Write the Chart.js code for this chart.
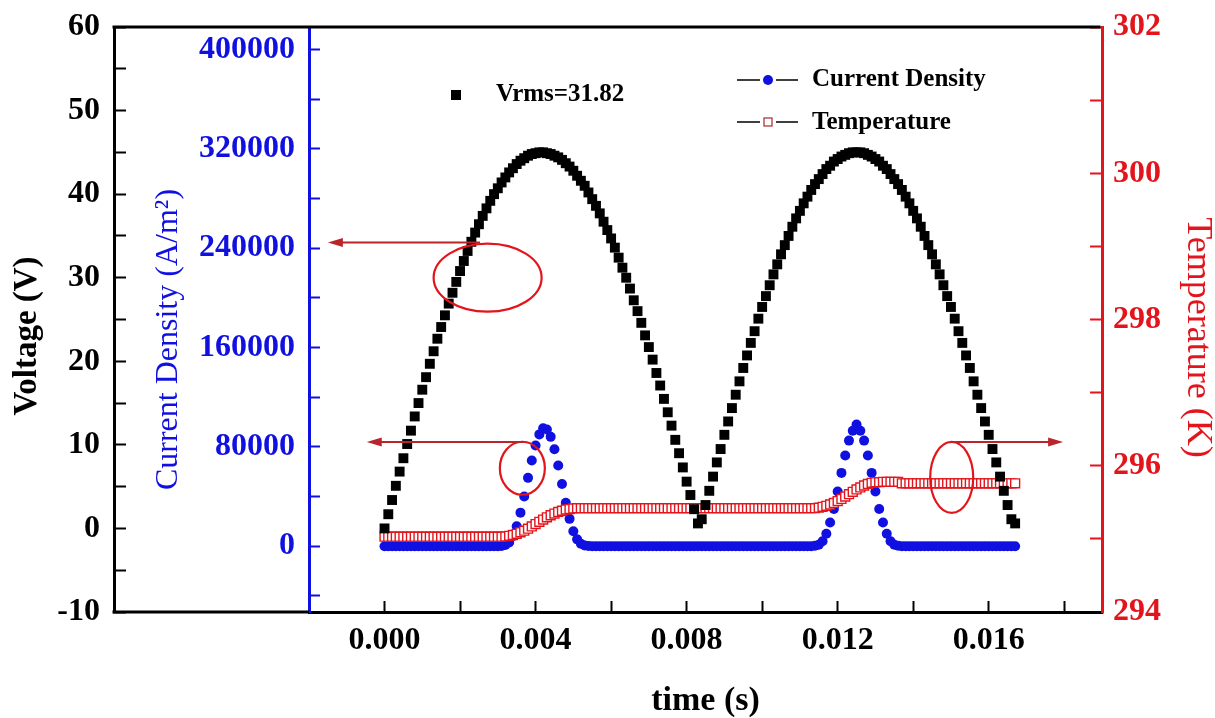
<!DOCTYPE html>
<html>
<head>
<meta charset="utf-8">
<title>Voltage, current density and temperature vs time</title>
<script src="https://cdn.jsdelivr.net/npm/chart.js@4.4.0/dist/chart.umd.min.js"></script>
<style>
  html, body { margin: 0; padding: 0; background: #fff; }
  #wrap { width: 1215px; height: 718px; }
</style>
</head>
<body>
<div id="wrap"><canvas id="chart" width="1215" height="718"></canvas></div>
<script>
// time (s), one sample every 0.1 ms
var time = [
  0.0000,0.0001,0.0002,0.0003,0.0004,0.0005,0.0006,0.0007,0.0008,0.0009,
  0.0010,0.0011,0.0012,0.0013,0.0014,0.0015,0.0016,0.0017,0.0018,0.0019,
  0.0020,0.0021,0.0022,0.0023,0.0024,0.0025,0.0026,0.0027,0.0028,0.0029,
  0.0030,0.0031,0.0032,0.0033,0.0034,0.0035,0.0036,0.0037,0.0038,0.0039,
  0.0040,0.0041,0.0042,0.0043,0.0044,0.0045,0.0046,0.0047,0.0048,0.0049,
  0.0050,0.0051,0.0052,0.0053,0.0054,0.0055,0.0056,0.0057,0.0058,0.0059,
  0.0060,0.0061,0.0062,0.0063,0.0064,0.0065,0.0066,0.0067,0.0068,0.0069,
  0.0070,0.0071,0.0072,0.0073,0.0074,0.0075,0.0076,0.0077,0.0078,0.0079,
  0.0080,0.0081,0.0082,0.0083,0.0084,0.0085,0.0086,0.0087,0.0088,0.0089,
  0.0090,0.0091,0.0092,0.0093,0.0094,0.0095,0.0096,0.0097,0.0098,0.0099,
  0.0100,0.0101,0.0102,0.0103,0.0104,0.0105,0.0106,0.0107,0.0108,0.0109,
  0.0110,0.0111,0.0112,0.0113,0.0114,0.0115,0.0116,0.0117,0.0118,0.0119,
  0.0120,0.0121,0.0122,0.0123,0.0124,0.0125,0.0126,0.0127,0.0128,0.0129,
  0.0130,0.0131,0.0132,0.0133,0.0134,0.0135,0.0136,0.0137,0.0138,0.0139,
  0.0140,0.0141,0.0142,0.0143,0.0144,0.0145,0.0146,0.0147,0.0148,0.0149,
  0.0150,0.0151,0.0152,0.0153,0.0154,0.0155,0.0156,0.0157,0.0158,0.0159,
  0.0160,0.0161,0.0162,0.0163,0.0164,0.0165,0.0166,0.0167
];

// voltage (V)
var voltage = [
  0.0,1.7,3.4,5.1,6.8,8.4,10.1,11.7,13.4,15.0,
  16.6,18.1,19.7,21.2,22.7,24.1,25.5,26.9,28.2,29.5,
  30.8,32.0,33.2,34.3,35.4,36.4,37.4,38.3,39.2,40.0,
  40.7,41.4,42.0,42.6,43.1,43.6,44.0,44.3,44.6,44.8,
  44.9,45.0,45.0,44.9,44.8,44.6,44.4,44.1,43.7,43.3,
  42.8,42.2,41.6,41.0,40.2,39.4,38.6,37.7,36.7,35.7,
  34.7,33.6,32.4,31.2,30.0,28.7,27.3,26.0,24.6,23.1,
  21.7,20.2,18.6,17.1,15.5,13.9,12.3,10.6,9.0,7.3,
  5.6,4.0,2.3,0.6,1.1,2.8,4.5,6.2,7.9,9.5,
  11.2,12.8,14.4,16.0,17.6,19.2,20.7,22.2,23.6,25.1,
  26.5,27.8,29.1,30.4,31.6,32.8,33.9,35.0,36.1,37.1,
  38.0,38.9,39.7,40.5,41.2,41.8,42.4,43.0,43.4,43.9,
  44.2,44.5,44.7,44.9,45.0,45.0,45.0,44.9,44.7,44.5,
  44.2,43.9,43.4,43.0,42.4,41.8,41.2,40.5,39.7,38.9,
  38.0,37.1,36.1,35.0,33.9,32.8,31.6,30.4,29.1,27.8,
  26.5,25.1,23.6,22.2,20.7,19.2,17.6,16.0,14.4,12.8,
  11.2,9.5,7.9,6.2,4.5,2.8,1.1,0.6
];

// current density (A/m2)
var currentDensity = [
  0,0,0,0,0,0,0,0,0,0,
  0,0,0,0,0,0,0,0,0,0,
  0,0,0,0,0,0,0,0,0,0,
  0,200,900,3000,8000,16000,27000,40000,55000,69000,
  81000,90000,95000,94000,88000,78000,65000,50000,35000,22000,
  12000,5500,2000,600,100,0,0,0,0,0,
  0,0,0,0,0,0,0,0,0,0,
  0,0,0,0,0,0,0,0,0,0,
  0,0,0,0,0,0,0,0,0,0,
  0,0,0,0,0,0,0,0,0,0,
  0,0,0,0,0,0,0,0,0,0,
  0,0,0,0,300,1200,4000,10000,19000,30000,
  44000,59000,73000,85000,93000,98000,93000,85000,73000,59000,
  44000,30000,19000,10000,4000,1200,300,0,0,0,
  0,0,0,0,0,0,0,0,0,0,
  0,0,0,0,0,0,0,0,0,0,
  0,0,0,0,0,0,0,0
];

// temperature (K)
var temperature = [
  295.03,295.03,295.03,295.03,295.03,295.03,295.03,295.03,295.03,295.03,
  295.03,295.03,295.03,295.03,295.03,295.03,295.03,295.03,295.03,295.03,
  295.03,295.03,295.03,295.03,295.03,295.03,295.03,295.03,295.03,295.03,
  295.03,295.03,295.034,295.042,295.053,295.069,295.089,295.112,295.139,295.170,
  295.202,295.233,295.264,295.295,295.323,295.346,295.369,295.385,295.401,295.408,
  295.416,295.42,295.42,295.42,295.42,295.42,295.42,295.42,295.42,295.42,
  295.42,295.42,295.42,295.42,295.42,295.42,295.42,295.42,295.42,295.42,
  295.42,295.42,295.42,295.42,295.42,295.42,295.42,295.42,295.42,295.42,
  295.42,295.42,295.42,295.42,295.42,295.42,295.42,295.42,295.42,295.42,
  295.42,295.42,295.42,295.42,295.42,295.42,295.42,295.42,295.42,295.42,
  295.42,295.42,295.42,295.42,295.42,295.42,295.42,295.42,295.42,295.42,
  295.42,295.42,295.42,295.42,295.42,295.427,295.438,295.452,295.470,295.492,
  295.517,295.546,295.578,295.611,295.643,295.676,295.704,295.730,295.751,295.766,
  295.773,295.776,295.78,295.78,295.78,295.78,295.78,295.76,295.76,295.76,
  295.76,295.76,295.76,295.76,295.76,295.76,295.76,295.76,295.76,295.76,
  295.76,295.76,295.76,295.76,295.76,295.76,295.76,295.76,295.76,295.76,
  295.76,295.76,295.76,295.76,295.76,295.76,295.76,295.76
];

// tick positions (labelled and unlabelled)
var timeTicks = [-0.002,0,0.002,0.004,0.006,0.008,0.010,0.012,0.014,0.016,0.018];
var voltTicks = [-10,-5,0,5,10,15,20,25,30,35,40,45,50,55,60];
var densityTicks = [-40000,0,40000,80000,120000,160000,200000,240000,280000,320000,360000,400000];
var tempTicks = [294,295,296,297,298,299,300,301,302];

var serif = '"Liberation Serif", "Times New Roman", Times, serif';
var BLUE = '#1010e0';
var RED = '#e3141c';
var DARKRED = '#b8252b';

function pts(ys) {
  return time.map(function(t, i) { return {x: t, y: ys[i]}; });
}
function setTicks(list) {
  return function(scale) {
    scale.ticks = list.map(function(v) { return {value: v}; });
  };
}
// fixed box size, and no extra room for the end labels
function boxSize(prop, size) {
  return function(s) {
    s[prop] = size;
    s.paddingTop = s.paddingBottom = s.paddingLeft = s.paddingRight = 0;
  };
}

// ellipses and arrows, in (time, voltage) units
var rings = [
  {t: 0.00273, v: 30.0, rx: 54, ry: 34},
  {t: 0.00365, v: 7.2, rx: 22.5, ry: 26.5},
  {t: 0.01502, v: 6.1, rx: 21.5, ry: 35.5}
];
var arrows = [
  {from: 0.00253, to: -0.0015, v: 34.2},
  {from: 0.00367, to: -0.00047, v: 10.35},
  {from: 0.01505, to: 0.01797, v: 10.35}
];

var extras = {
  id: 'extras',
  beforeDatasetsDraw: function(chart) {
    var ctx = chart.ctx, area = chart.chartArea;
    var left = chart.scales.yV.right;
    ctx.save();
    ctx.strokeStyle = '#000';
    ctx.lineWidth = 3;
    ctx.beginPath();
    ctx.moveTo(left - 1.5, area.top);
    ctx.lineTo(area.right - 1.5, area.top);
    ctx.moveTo(left - 1.5, area.bottom);
    ctx.lineTo(area.left, area.bottom);
    ctx.stroke();
    ctx.restore();
  },
  afterDraw: function(chart) {
    var ctx = chart.ctx;
    var xs = chart.scales.x, ys = chart.scales.yV;
    ctx.save();
    // ellipses
    ctx.strokeStyle = RED;
    ctx.lineWidth = 2.2;
    rings.forEach(function(r) {
      ctx.beginPath();
      ctx.ellipse(xs.getPixelForValue(r.t), ys.getPixelForValue(r.v), r.rx, r.ry, 0, 0, Math.PI * 2);
      ctx.stroke();
    });
    // arrows
    ctx.strokeStyle = DARKRED;
    ctx.fillStyle = DARKRED;
    ctx.lineWidth = 2;
    arrows.forEach(function(a) {
      var x1 = xs.getPixelForValue(a.from), x2 = xs.getPixelForValue(a.to);
      var y = ys.getPixelForValue(a.v);
      var dir = x2 > x1 ? 1 : -1;
      ctx.beginPath();
      ctx.moveTo(x1, y);
      ctx.lineTo(x2 - dir * 10, y);
      ctx.stroke();
      ctx.beginPath();
      ctx.moveTo(x2, y);
      ctx.lineTo(x2 - dir * 15, y - 4.5);
      ctx.lineTo(x2 - dir * 15, y + 4.5);
      ctx.closePath();
      ctx.fill();
    });

    // legend
    ctx.font = 'bold 25px ' + serif;
    ctx.textBaseline = 'middle';
    ctx.textAlign = 'left';
    ctx.fillStyle = '#000';
    ctx.fillRect(451, 90, 10, 10);
    ctx.fillText('Vrms=31.82', 496, 95);

    ctx.strokeStyle = '#000';
    ctx.lineWidth = 1.5;
    ctx.beginPath();
    ctx.moveTo(737, 80); ctx.lineTo(760, 80);
    ctx.moveTo(776, 80); ctx.lineTo(798, 80);
    ctx.moveTo(737, 122); ctx.lineTo(760, 122);
    ctx.moveTo(776, 122); ctx.lineTo(798, 122);
    ctx.stroke();
    ctx.fillStyle = BLUE;
    ctx.beginPath();
    ctx.arc(768, 80, 5, 0, Math.PI * 2);
    ctx.fill();
    ctx.fillStyle = '#fff';
    ctx.strokeStyle = '#b03a3a';
    ctx.lineWidth = 1.3;
    ctx.fillRect(764, 118, 8, 8);
    ctx.strokeRect(764, 118, 8, 8);
    ctx.fillStyle = '#000';
    ctx.fillText('Current Density', 812, 80);
    ctx.fillText('Temperature', 812, 123);
    ctx.restore();
  }
};

var tickFont = {family: serif, size: 32, weight: 'bold'};

new Chart(document.getElementById('chart'), {
  type: 'scatter',
  data: {
    datasets: [
      {
        label: 'Voltage',
        data: pts(voltage),
        yAxisID: 'yV',
        pointStyle: 'rect',
        pointRadius: 7,
        pointBackgroundColor: '#000',
        pointBorderWidth: 0
      },
      {
        label: 'Temperature',
        data: pts(temperature),
        yAxisID: 'yT',
        pointStyle: 'rect',
        pointRadius: 6.3,
        pointBackgroundColor: '#fff',
        pointBorderColor: RED,
        pointBorderWidth: 1.4
      },
      {
        label: 'Current Density',
        data: pts(currentDensity),
        yAxisID: 'yJ',
        pointStyle: 'circle',
        pointRadius: 5,
        pointBackgroundColor: BLUE,
        pointBorderWidth: 0
      }
    ]
  },
  options: {
    responsive: false,
    animation: false,
    devicePixelRatio: 1,
    layout: {padding: {top: 27, left: 0, right: 0, bottom: 0}},
    plugins: {legend: {display: false}, tooltip: {enabled: false}},
    scales: {
      x: {
        type: 'linear',
        position: 'bottom',
        min: -0.002,
        max: 0.019,
        afterBuildTicks: setTicks(timeTicks),
        afterFit: boxSize('height', 106),
        grid: {drawOnChartArea: false, tickLength: -11, tickWidth: 2, color: '#000'},
        border: {color: '#000', width: 3},
        ticks: {
          autoSkip: false, maxRotation: 0, color: '#000', padding: 21, font: tickFont,
          callback: function(v) {
            var k = Math.round(v * 1000);
            return (k >= 0 && k <= 16 && k % 4 === 0) ? v.toFixed(3) : '';
          }
        },
        title: {display: true, text: 'time (s)', color: '#000', padding: {top: 0, bottom: -4},
          font: {family: serif, size: 34, weight: 'bold'}}
      },
      yV: {
        type: 'linear',
        position: 'left',
        weight: 2,
        min: -10,
        max: 60,
        afterBuildTicks: setTicks(voltTicks),
        afterFit: boxSize('width', 114),
        grid: {drawOnChartArea: false, tickLength: -12, tickWidth: 2, color: '#000'},
        border: {color: '#000', width: 3},
        ticks: {
          autoSkip: false, color: '#000', padding: 26, font: tickFont,
          callback: function(v) { return v % 10 === 0 ? String(v) : ''; }
        },
        // trailing spaces push the rotated title a little below the middle, as in the original
        title: {display: true, text: 'Voltage (V)    ', color: '#000', padding: {top: 8, bottom: 0},
          font: {family: serif, size: 33, weight: 'bold'}}
      },
      yJ: {
        type: 'linear',
        position: 'left',
        weight: 1,
        min: -53000,
        max: 418000,
        afterBuildTicks: setTicks(densityTicks),
        afterFit: boxSize('width', 195),
        grid: {drawOnChartArea: false, tickLength: -11, tickWidth: 2, color: BLUE},
        border: {color: BLUE, width: 3},
        ticks: {
          autoSkip: false, color: BLUE, padding: 25, font: tickFont,
          callback: function(v) { return (v >= 0 && v % 80000 === 0) ? String(v) : ''; }
        },
        title: {display: true, text: 'Current Density (A/m\u00B2)     ', color: BLUE, padding: {top: 35, bottom: 0},
          font: {family: serif, size: 32, weight: 'normal'}}
      },
      yT: {
        type: 'linear',
        position: 'right',
        min: 294,
        max: 302,
        afterBuildTicks: setTicks(tempTicks),
        afterFit: boxSize('width', 113),
        grid: {drawOnChartArea: false, tickLength: -12, tickWidth: 2, color: RED},
        border: {color: RED, width: 3},
        ticks: {
          autoSkip: false, color: RED, padding: 23, font: tickFont,
          callback: function(v) { return v % 2 === 0 ? String(v) : ''; }
        },
        title: {display: true, text: '    Temperature (K)', color: RED, padding: {top: -4, bottom: 0},
          font: {family: serif, size: 36, weight: 'normal'}}
      }
    }
  },
  plugins: [extras]
});
</script>
</body>
</html>
